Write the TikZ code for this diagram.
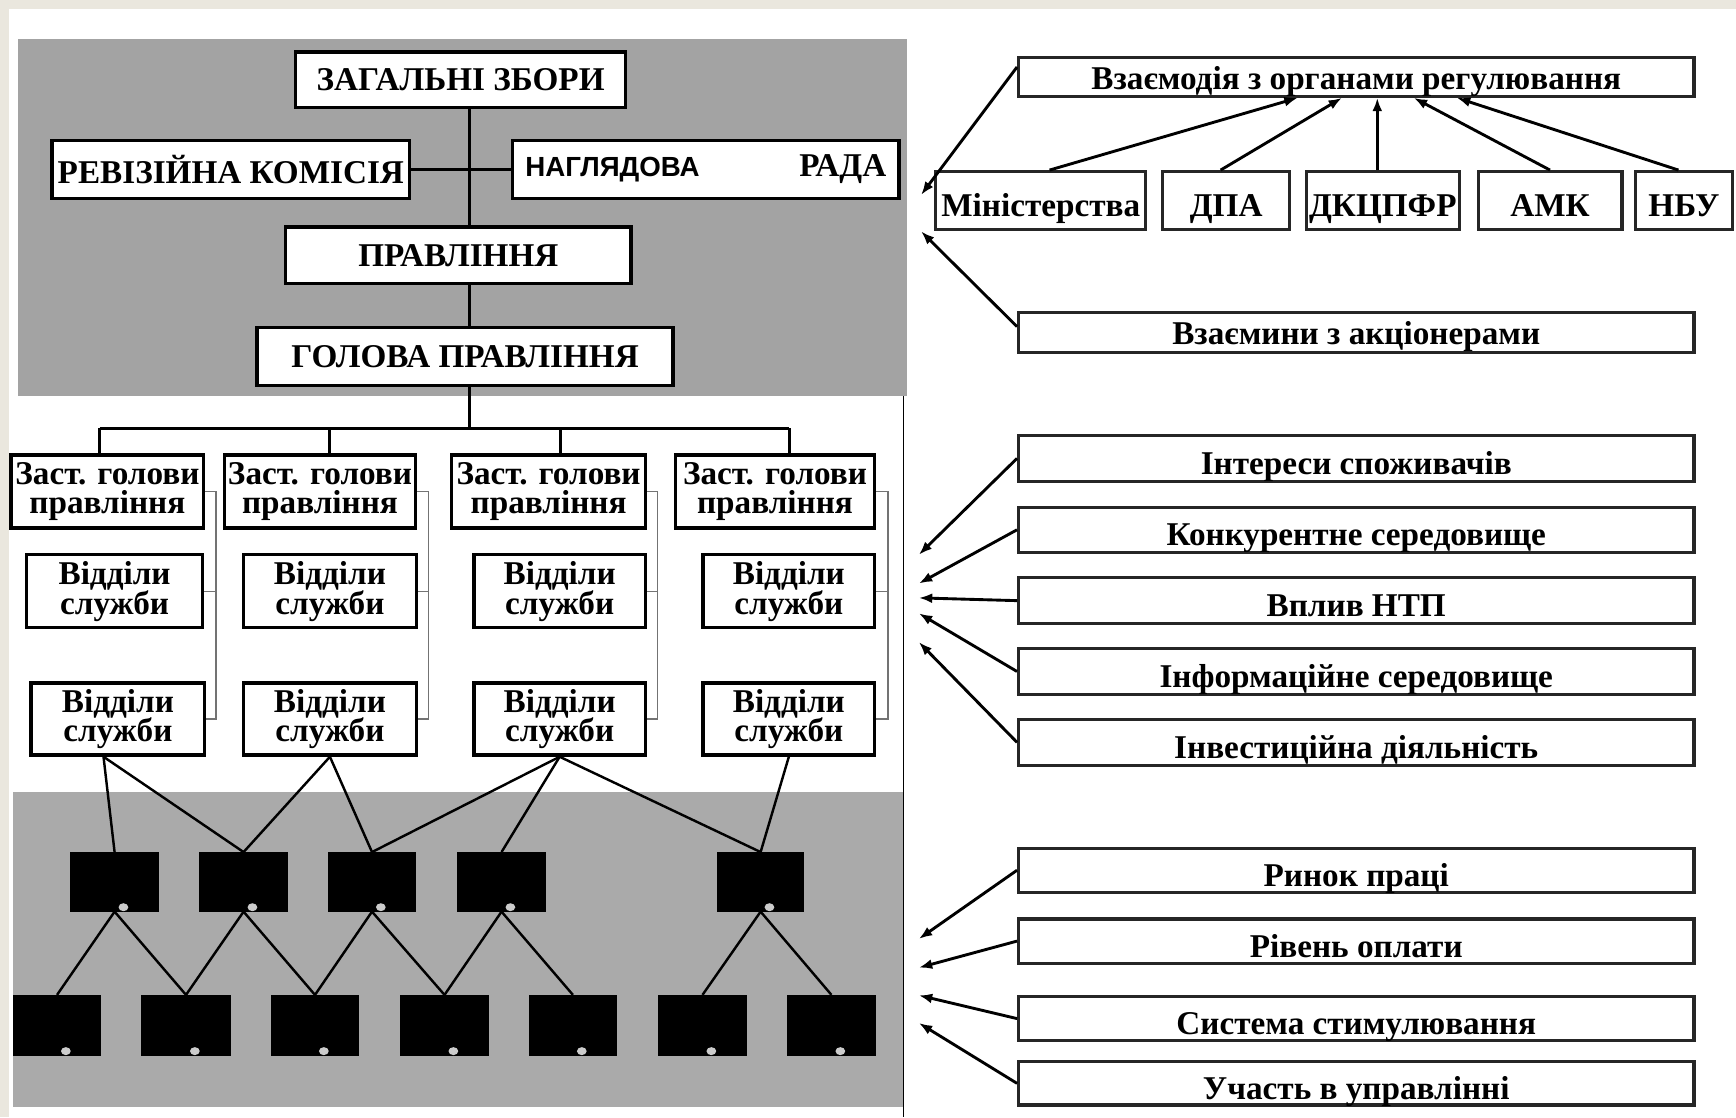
\documentclass[tikz,border=0pt]{standalone}
\usepackage{fontspec}
\setmainfont{Liberation Serif}
\newfontfamily\nagfont{Liberation Sans}
\usetikzlibrary{arrows.meta,calc}
\definecolor{beige}{RGB}{234,231,222}
\definecolor{panelgray}{RGB}{163,163,163}
\definecolor{panelgrayb}{RGB}{170,170,170}
\newcommand{\mkbox}[7][]{%
  \pgfmathsetmacro{\bxw}{(#5-#3)*0.5}%
  \pgfmathsetmacro{\bxh}{(#6-#4)*0.5}%
  \node[#1, minimum width=\bxw pt, minimum height=\bxh pt] (#2) at ({(#3+#5)/2},{(#4+#6)/2}) {#7};}
\begin{document}
\begin{tikzpicture}[x=0.5pt,y=-0.5pt,
  lbox/.style={draw=black, line width=1.5pt, fill=white, inner sep=0pt, font=\bfseries\fontsize{15}{13.5}\selectfont, align=center},
  rbox/.style={draw=black!85, line width=1.4pt, fill=white, inner sep=0pt, font=\bfseries\fontsize{15}{13}\selectfont, text height=14.5pt, text depth=0pt},
  thinrbox/.style={rbox, text height=11.5pt},
  sq/.style={fill=black, draw=black, inner sep=0pt},
  conn/.style={line width=1.3pt},
  thinconn/.style={line width=0.6pt, draw=black!55},
  net/.style={line width=1.1pt},
  arr/.style={line width=1.3pt, -{Latex[length=6pt,width=4.5pt]}}
]
% background
\fill[beige] (0,0) rectangle (1568,1009);
\fill[white] (8,8) rectangle (1568,1009);
\useasboundingbox (0,0) rectangle (1568,1009);
\fill[panelgray] (16,35) rectangle (819,358);
\fill[panelgrayb] (12,715) rectangle (816,1000);
\draw[line width=0.8pt] (816,358) -- (816,1009);

% top hierarchy
\mkbox[lbox]{zag}{267}{47}{565}{97}{ЗАГАЛЬНІ ЗБОРИ}
\mkbox[lbox]{rev}{47}{127}{370}{179}{РЕВІЗІЙНА КОМІСІЯ}
\mkbox[lbox]{nag}{463}{127}{812}{179}{\makebox[163pt][s]{{\nagfont\fontsize{12.5}{13}\selectfont НАГЛЯДОВА}\hfill РАДА}}
\mkbox[lbox]{prav}{258}{205}{570}{256}{ПРАВЛІННЯ}
\mkbox[lbox]{gol}{232}{296}{608}{348}{ГОЛОВА ПРАВЛІННЯ}

\coordinate (tk) at (424,387);
\draw[conn] (zag.south -| tk) -- (prav.north -| tk);
\draw[conn] (prav.south -| tk) -- (gol.north -| tk);
\draw[conn] (gol.south -| tk) -- (tk);
\draw[conn] (rev.east) -- (nag.west);

% deputies
\mkbox[lbox]{z1}{10}{411}{184}{477}{Заст. голови\\правління}
\mkbox[lbox]{z2}{203}{411}{375}{477}{Заст. голови\\правління}
\mkbox[lbox]{z3}{408}{411}{583}{477}{Заст. голови\\правління}
\mkbox[lbox]{z4}{610}{411}{790}{477}{Заст. голови\\правління}

\mkbox[lbox]{a1}{24}{501}{183}{567}{Відділи\\служби}
\mkbox[lbox]{a2}{220}{501}{376}{567}{Відділи\\служби}
\mkbox[lbox]{a3}{428}{501}{583}{567}{Відділи\\служби}
\mkbox[lbox]{a4}{635}{501}{790}{567}{Відділи\\служби}

\mkbox[lbox]{b1}{28}{617}{185}{682}{Відділи\\служби}
\mkbox[lbox]{b2}{220}{617}{376}{682}{Відділи\\служби}
\mkbox[lbox]{b3}{428}{617}{583}{682}{Відділи\\служби}
\mkbox[lbox]{b4}{635}{617}{790}{682}{Відділи\\служби}

\coordinate (d1) at (90,387);
\coordinate (d2) at (298,387);
\coordinate (d3) at (506,387);
\coordinate (d4) at (713,387);
\draw[conn] (d1) -- (d4);
\draw[conn] (d1) -- (d1 |- z1.north);
\draw[conn] (d2) -- (d2 |- z2.north);
\draw[conn] (d3) -- (d3 |- z3.north);
\draw[conn] (d4) -- (d4 |- z4.north);

% brackets
\coordinate (k1) at (195,0);
\coordinate (k2) at (387,0);
\coordinate (k3) at (594,0);
\coordinate (k4) at (802,0);
\foreach \i in {1,2,3,4}{
  \draw[thinconn] (z\i.east) -- (z\i.east -| k\i) -- (b\i.east -| k\i) -- (b\i.east);
  \draw[thinconn] (a\i.east) -- (a\i.east -| k\i);
}

% black squares
\mkbox[sq]{s1}{64}{770}{143}{823}{}
\mkbox[sq]{s2}{180}{770}{260}{823}{}
\mkbox[sq]{s3}{297}{770}{375}{823}{}
\mkbox[sq]{s4}{413}{770}{493}{823}{}
\mkbox[sq]{s5}{648}{770}{726}{823}{}
\mkbox[sq]{t1}{12}{899}{91}{953}{}
\mkbox[sq]{t2}{128}{899}{208}{953}{}
\mkbox[sq]{t3}{245}{899}{324}{953}{}
\mkbox[sq]{t4}{362}{899}{441}{953}{}
\mkbox[sq]{t5}{478}{899}{557}{953}{}
\mkbox[sq]{t6}{595}{899}{674}{953}{}
\mkbox[sq]{t7}{711}{899}{791}{953}{}
\foreach \n in {s1,s2,s3,s4,s5,t1,t2,t3,t4,t5,t6,t7}{
  \fill[gray!40] ($(\n.south)+(8,-4)$) ellipse (2.2pt and 1.8pt);
}

\draw[net] ([xshift=-6.5pt]b1.south) -- (s1.north);
\draw[net] ([xshift=-6.5pt]b1.south) -- (s2.north);
\draw[net] (b2.south) -- (s2.north);
\draw[net] (b2.south) -- (s3.north);
\draw[net] (b3.south) -- (s3.north);
\draw[net] (b3.south) -- (s4.north);
\draw[net] (b3.south) -- (s5.north);
\draw[net] (b4.south) -- (s5.north);
\draw[net] (s1.south) -- (t1.north);
\draw[net] (s1.south) -- (t2.north);
\draw[net] (s2.south) -- (t2.north);
\draw[net] (s2.south) -- (t3.north);
\draw[net] (s3.south) -- (t3.north);
\draw[net] (s3.south) -- (t4.north);
\draw[net] (s4.south) -- (t4.north);
\draw[net] (s4.south) -- (t5.north);
\draw[net] (s5.south) -- (t6.north);
\draw[net] (s5.south) -- (t7.north);

% right side: regulation
\mkbox[thinrbox]{vz}{920}{52}{1530}{87}{Взаємодія з органами регулювання}
\mkbox[rbox]{min}{845}{155}{1035}{207}{Міністерства}
\mkbox[rbox]{dpa}{1050}{155}{1165}{207}{ДПА}
\mkbox[rbox]{dk}{1180}{155}{1318}{207}{ДКЦПФР}
\mkbox[rbox]{amk}{1335}{155}{1465}{207}{АМК}
\mkbox[rbox]{nbu}{1477}{155}{1565}{207}{НБУ}
\mkbox[thinrbox]{vs}{920}{282}{1530}{318}{Взаємини з акціонерами}

\draw[arr] ($(min.north)+(8,0)$) -- ($(vz.south)+(-53,0)$);
\draw[arr] ($(dpa.north)+(-5,0)$) -- ($(vz.south)+(-13,0)$);
\draw[arr] ($(dk.north)+(-5,0)$) -- ($(vz.south)+(19,0)$);
\draw[arr] (amk.north) -- ($(vz.south)+(52,0)$);
\draw[arr] ($(nbu.north)+(-5,0)$) -- ($(vz.south)+(91,0)$);

\coordinate (e1) at (832,176);
\coordinate (e2) at (832,209);
\draw[arr] ($(vz.west)+(0,-9)$) -- (e1);
\draw[arr] ($(vs.west)+(0,-5)$) -- (e2);

% right side: environment
\mkbox[rbox]{i1}{920}{393}{1530}{435}{Інтереси споживачів}
\mkbox[rbox]{i2}{920}{458}{1530}{499}{Конкурентне середовище}
\mkbox[rbox]{i3}{920}{522}{1530}{563}{Вплив НТП}
\mkbox[rbox]{i4}{920}{586}{1530}{627}{Інформаційне середовище}
\mkbox[rbox]{i5}{920}{650}{1530}{691}{Інвестиційна діяльність}
\coordinate (m1) at (830,501);
\coordinate (m2) at (830,527);
\coordinate (m3) at (830,540);
\coordinate (m4) at (830,554);
\coordinate (m5) at (830,580);
\foreach \i in {1,...,5}{ \draw[arr] (i\i.west) -- (m\i); }

% right side: labour
\mkbox[rbox]{j1}{920}{766}{1530}{806}{Ринок праці}
\mkbox[rbox]{j2}{920}{830}{1530}{870}{Рівень оплати}
\mkbox[rbox]{j3}{920}{900}{1530}{940}{Система стимулювання}
\mkbox[rbox]{j4}{920}{959}{1530}{998}{Участь в управлінні}
\coordinate (n1) at (830,848);
\coordinate (n2) at (830,874);
\coordinate (n3) at (830,899);
\coordinate (n4) at (830,924);
\foreach \i in {1,...,4}{ \draw[arr] (j\i.west) -- (n\i); }
\end{tikzpicture}
\end{document}
